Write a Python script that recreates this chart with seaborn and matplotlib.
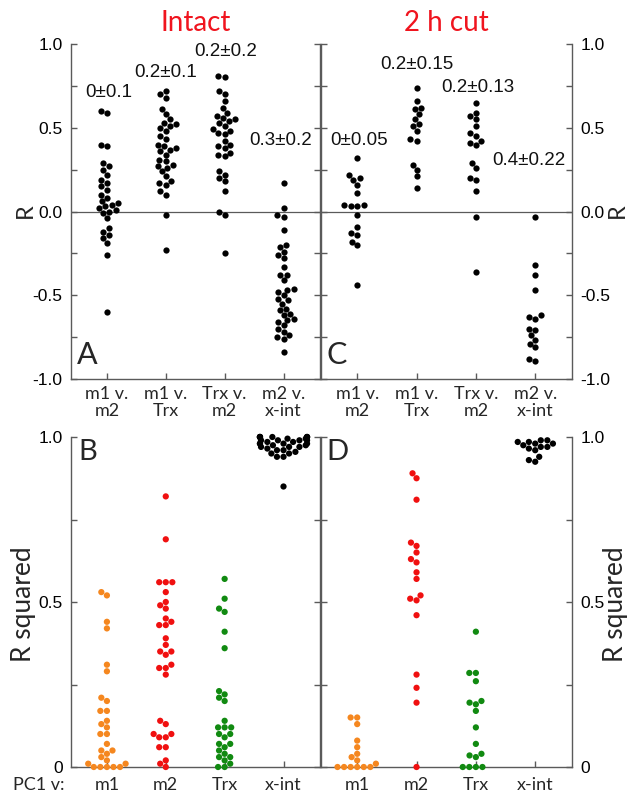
import matplotlib
matplotlib.use("Agg")
import matplotlib.pyplot as plt
import seaborn as sns
import pandas as pd

# ---------------- data ----------------
top_pairs = ["m1 v.\nm2", "m1 v.\nTrx", "Trx v.\nm2", "m2 v.\nx-int"]
bot_pairs = ["m1", "m2", "Trx", "x-int"]
row_label = "PC1 v:"

# Panel A (Intact, R)
A_m1_m2 = [0.60, 0.59, 0.40, 0.39, 0.29, 0.27, 0.25, 0.22, 0.19, 0.17, 0.15, 0.13,
           0.10, 0.08, 0.06, 0.05, 0.04, 0.03, 0.02, 0.01, 0.0, -0.01, -0.04, -0.10,
           -0.12, -0.14, -0.16, -0.19, -0.26, -0.60]
A_m1_trx = [0.72, 0.70, 0.68, 0.61, 0.58, 0.55, 0.53, 0.52, 0.51, 0.50, 0.48, 0.45,
            0.43, 0.40, 0.39, 0.38, 0.37, 0.36, 0.34, 0.31, 0.30, 0.28, 0.27, 0.26,
            0.24, 0.21, 0.18, 0.17, 0.16, 0.12, 0.10, -0.02, -0.23]
A_trx_m2 = [0.81, 0.80, 0.72, 0.70, 0.66, 0.62, 0.59, 0.57, 0.56, 0.55, 0.54, 0.53,
            0.51, 0.49, 0.48, 0.47, 0.46, 0.42, 0.40, 0.39, 0.38, 0.35, 0.34, 0.33,
            0.24, 0.22, 0.20, 0.18, 0.12, 0.0, -0.02, -0.25]
A_m2_xint = [0.17, 0.02, -0.02, -0.03, -0.11, -0.20, -0.21, -0.24, -0.26, -0.28,
             -0.33, -0.38, -0.38, -0.41, -0.46, -0.47, -0.48, -0.50, -0.52, -0.53,
             -0.55, -0.58, -0.59, -0.61, -0.62, -0.64, -0.65, -0.66, -0.68, -0.70,
             -0.72, -0.74, -0.75, -0.76, -0.84]

# Panel C (2 h cut, R)
C_m1_m2 = [0.32, 0.22, 0.20, 0.19, 0.16, 0.11, 0.04, 0.04, 0.03, 0.03, -0.02, -0.09,
           -0.13, -0.14, -0.18, -0.20, -0.44]
C_m1_trx = [0.74, 0.66, 0.62, 0.61, 0.58, 0.55, 0.52, 0.51, 0.48, 0.43, 0.42, 0.28,
            0.25, 0.21, 0.14]
C_trx_m2 = [0.65, 0.59, 0.57, 0.55, 0.51, 0.47, 0.45, 0.42, 0.41, 0.40, 0.29, 0.26,
            0.20, 0.19, 0.12, -0.03, -0.36]
C_m2_xint = [-0.03, -0.32, -0.38, -0.47, -0.62, -0.63, -0.64, -0.70, -0.71, -0.74,
             -0.77, -0.79, -0.81, -0.88, -0.89]

# Panel B (Intact, R squared, PC1 vs ...)
B_m1 = [0.53, 0.52, 0.44, 0.42, 0.31, 0.29, 0.21, 0.20, 0.17, 0.17, 0.14, 0.13,
        0.12, 0.10, 0.10, 0.07, 0.05, 0.05, 0.04, 0.03, 0.02, 0.01, 0.01, 0.0,
        0.0, 0.0, 0.0, 0.0]
B_m2 = [0.82, 0.69, 0.56, 0.56, 0.56, 0.53, 0.50, 0.49, 0.48, 0.45, 0.44, 0.43,
        0.43, 0.39, 0.37, 0.35, 0.35, 0.34, 0.31, 0.30, 0.30, 0.28, 0.14, 0.13,
        0.10, 0.10, 0.09, 0.09, 0.06, 0.06, 0.02, 0.01, 0.0]
B_trx = [0.57, 0.51, 0.48, 0.47, 0.41, 0.36, 0.23, 0.22, 0.21, 0.20, 0.14, 0.12,
         0.12, 0.12, 0.10, 0.10, 0.09, 0.07, 0.07, 0.06, 0.05, 0.04, 0.03, 0.03,
         0.02, 0.01, 0.0, 0.0]
B_xint = [1.0, 1.0, 1.0, 1.0, 1.0, 1.0, 1.0, 1.0, 0.995, 0.995, 0.99, 0.99, 0.99,
          0.99, 0.985, 0.985, 0.98, 0.98, 0.98, 0.98, 0.975, 0.975, 0.97, 0.97,
          0.97, 0.965, 0.96, 0.96, 0.955, 0.95, 0.95, 0.94, 0.94, 0.85]

# Panel D (2 h cut, R squared)
D_m1 = [0.15, 0.15, 0.13, 0.08, 0.06, 0.04, 0.03, 0.02, 0.01, 0.0, 0.0, 0.0, 0.0,
        0.0, 0.0]
D_m2 = [0.89, 0.875, 0.81, 0.68, 0.67, 0.65, 0.63, 0.62, 0.59, 0.57, 0.52, 0.51,
        0.505, 0.46, 0.28, 0.24, 0.195, 0.0]
D_trx = [0.41, 0.285, 0.285, 0.26, 0.20, 0.195, 0.19, 0.17, 0.12, 0.07, 0.04, 0.035,
         0.03, 0.0, 0.0, 0.0, 0.0]
D_xint = [0.99, 0.99, 0.985, 0.985, 0.98, 0.98, 0.975, 0.97, 0.97, 0.965, 0.96,
          0.94, 0.93, 0.925]

A_labels = ["0\u00b10.1", "0.2\u00b10.1", "0.2\u00b10.2", "0.3\u00b10.2"]
C_labels = ["0\u00b10.05", "0.2\u00b10.15", "0.2\u00b10.13", "0.4\u00b10.22"]
titles = ["Intact", "2 h cut"]

# ---------------- style ----------------
sns.set_style("white")
plt.rcParams["font.family"] = ["Liberation Sans", "DejaVu Sans"]
SPINE = "#5a5a5a"
RED_T = "#f0141e"
palette = {"m1": "#f5871f", "m2": "#f01010", "Trx": "#118a11", "x-int": "#000000"}
LATO = ["Lato", "DejaVu Sans"]


def long_df(groups, names):
    rows = []
    for name, vals in zip(names, groups):
        for v in vals:
            rows.append((name, v))
    return pd.DataFrame(rows, columns=["pair", "val"])


W, H = 628, 801
fig = plt.figure(figsize=(W / 100, H / 100), dpi=100)
fig.patch.set_facecolor("white")


def px_axes(l, t, r, b):
    return fig.add_axes([l / W, 1 - b / H, (r - l) / W, (b - t) / H])


axA = px_axes(71, 44, 320, 379)
axC = px_axes(321, 44, 572, 379)
axB = px_axes(71, 437, 320, 767)
axD = px_axes(321, 437, 572, 767)

dfA = long_df([A_m1_m2, A_m1_trx, A_trx_m2, A_m2_xint], top_pairs)
dfC = long_df([C_m1_m2, C_m1_trx, C_trx_m2, C_m2_xint], top_pairs)
dfB = long_df([B_m1, B_m2, B_trx, B_xint], bot_pairs)
dfD = long_df([D_m1, D_m2, D_trx, D_xint], bot_pairs)

for ax, df in [(axA, dfA), (axC, dfC)]:
    sns.swarmplot(data=df, x="pair", y="val", order=top_pairs, color="black",
                  size=4.5, ax=ax, clip_on=False, warn_thresh=1)
for ax, df in [(axB, dfB), (axD, dfD)]:
    sns.swarmplot(data=df, x="pair", y="val", order=bot_pairs, hue="pair",
                  palette=palette, legend=False, size=4.5, ax=ax, clip_on=False,
                  warn_thresh=1)

for ax in [axA, axC, axB, axD]:
    ax.set_xlim(-0.61, 3.62)
    ax.set_xlabel("")
    ax.set_ylabel("")
    ax.spines["top"].set_visible(False)
    for s in ["left", "right", "bottom"]:
        ax.spines[s].set_visible(True)
        ax.spines[s].set_color(SPINE)
        ax.spines[s].set_linewidth(1.0)
    ax.tick_params(axis="both", direction="in", length=4, width=1, color=SPINE,
                   left=True, right=True, bottom=True, top=False)
    ax.tick_params(axis="y", labelsize=12.5, labelcolor="black", pad=6)
    ax.set_facecolor("none")

for ax in [axA, axC]:
    ax.set_ylim(-1, 1)
    ax.set_yticks([-1, -0.75, -0.5, -0.25, 0, 0.25, 0.5, 0.75, 1.0])
    ax.set_yticklabels(["-1.0", "", "-0.5", "", "0.0", "", "0.5", "", "1.0"])
    ax.axhline(0, color=SPINE, lw=0.9, zorder=0)
    ax.set_xticks(range(4))
    ax.set_xticklabels(top_pairs, fontsize=13, family=LATO, linespacing=1.05)
    ax.tick_params(axis="x", pad=5)

for ax in [axB, axD]:
    ax.set_ylim(0, 1)
    ax.set_yticks([0, 0.25, 0.5, 0.75, 1.0])
    ax.set_yticklabels(["0", "", "0.5", "", "1.0"])
    ax.set_xticks(range(4))
    ax.set_xticklabels(bot_pairs, fontsize=13, family=LATO)
    ax.tick_params(axis="x", pad=7)

for ax in [axA, axB]:
    ax.tick_params(axis="y", labelleft=True, labelright=False)
for ax in [axC, axD]:
    ax.tick_params(axis="y", labelleft=False, labelright=True)

# annotations of means
A_pos = [(0.03, 0.683), (1.0, 0.802), (2.02, 0.928), (2.95, 0.395)]
C_pos = [(0.03, 0.395), (1.0, 0.85), (2.04, 0.713), (2.9, 0.275)]
for ax, labs, pos in [(axA, A_labels, A_pos), (axC, C_labels, C_pos)]:
    for lab, (x, y) in zip(labs, pos):
        ax.text(x, y, lab, ha="center", va="baseline", fontsize=13.5, color="#111111")

# panel letters
axA.text(0.025, 0.03, "A", transform=axA.transAxes, fontsize=22, family=LATO,
         ha="left", va="bottom")
axC.text(0.02, 0.03, "C", transform=axC.transAxes, fontsize=22, family=LATO,
         ha="left", va="bottom")
axB.text(0.03, 0.995, "B", transform=axB.transAxes, fontsize=21, family=LATO,
         ha="left", va="top")
axD.text(0.02, 0.995, "D", transform=axD.transAxes, fontsize=21, family=LATO,
         ha="left", va="top")

# titles
fig.text(195.5 / W, 1 - 31 / H, titles[0], color=RED_T, fontsize=20, family=LATO,
         ha="center", va="baseline")
fig.text(446.5 / W, 1 - 31 / H, titles[1], color=RED_T, fontsize=20, family=LATO,
         ha="center", va="baseline")

# axis labels
fig.text(25 / W, 1 - 211 / H, "R", rotation=90, fontsize=17, family=LATO,
         ha="center", va="center")
fig.text(617 / W, 1 - 211 / H, "R", rotation=90, fontsize=17, family=LATO,
         ha="center", va="center")
fig.text(24 / W, 1 - 604 / H, "R squared", rotation=90, fontsize=19, family=LATO,
         ha="center", va="center")
fig.text(615 / W, 1 - 604 / H, "R squared", rotation=90, fontsize=19, family=LATO,
         ha="center", va="center")

# "PC1 v:" row label, aligned with the bottom tick labels
fig.canvas.draw()
bb = axB.get_xticklabels()[0].get_window_extent(fig.canvas.get_renderer())
fig.text(13 / W, bb.y1 / H, row_label, fontsize=13, family=LATO,
         ha="left", va="top")

fig.savefig("out.png", dpi=100, facecolor="white")
